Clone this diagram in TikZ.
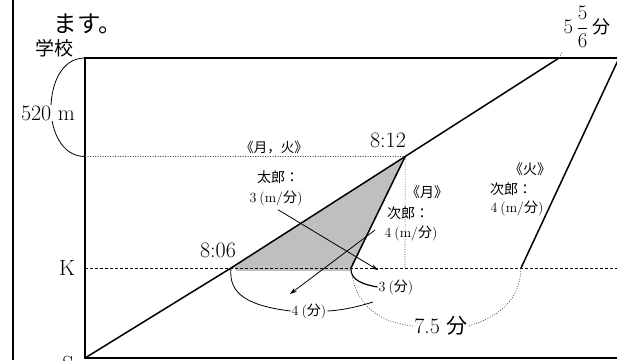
\documentclass[tikz,border=0pt]{standalone}
\usepackage{fontspec}
\usepackage{amsmath}
\newfontfamily\cjk{Noto Sans CJK JP}
\usetikzlibrary{arrows.meta,calc}
\begin{document}
\begin{tikzpicture}[x=1pt,y=-1pt,
  axis/.style={line width=1.6pt},
  graph/.style={line width=1.5pt},
  thinline/.style={line width=0.8pt},
  dotline/.style={line width=0.6pt, dash pattern=on 1pt off 1.5pt, black!75},
  dashline/.style={line width=0.6pt, dash pattern=on 3pt off 2pt},
  arr/.style={line width=0.8pt, -{Stealth[length=7pt,width=4.5pt]}},
  big/.style={font=\fontsize{22}{26}\selectfont, inner sep=1pt},
  small/.style={font=\fontsize{14}{16}\selectfont, inner sep=1pt},
  smallj/.style={font=\cjk\fontsize{14}{16}\selectfont, inner sep=1pt},
]
\useasboundingbox (0,0) rectangle (617,360);
% key points
\coordinate (S) at (85,358);
\coordinate (TL) at (85,58);
\coordinate (TR) at (617,58);
\coordinate (BR) at (617,358);
\coordinate (P1) at (231,268);
\coordinate (Top) at (559,58);
\coordinate (P2) at ($(P1)!0.531!(Top)$);
\coordinate (P3) at (351,268);
\coordinate (P4) at (521,268);
\coordinate (TueTop) at (620,56);
\coordinate (ML) at (85,156.5);
\coordinate (KL) at (85,268);
\coordinate (KR) at (617,268);
\coordinate (V) at (405,268);
\coordinate (Tick) at (562,52);
% shaded triangle
\fill[gray!50] (P1) -- (P2) -- (P3) -- cycle;
\fill[gray!50] (236,268) rectangle (351,271);
% frame
\draw[axis] (13,0) -- (13,360);
\draw[axis] (TR) -- (TL) -- (S) -- (BR);
% guide lines
\draw[dotline] (ML) -- (P2);
\draw[dotline] (P2) -- (V);
\draw[dashline] (KL) -- (KR);
\draw[dotline] (Top) -- (Tick);
% graph lines
\draw[graph] (S) -- (P1) -- (Top);
\draw[graph] (P2) -- (P3);
\draw[graph] (P4) -- (TueTop);
% labels
\node[font=\cjk\fontsize{23.5}{26}\selectfont, inner sep=1pt] (masu) at (88,24) {ます。};
\node[font=\cjk\fontsize{19}{22}\selectfont, inner sep=1pt] (gakko) at (54,48) {学校};
\draw[thinline] (TL) to[out=180,in=90] (51,108) to[out=-90,in=180] (ML);
\node[big, fill=white] (m520) at (48,113) {520 m};
\node[big] (t812) at (388,140) {8:12};
\node[big] (t806) at (218,250) {8:06};
\node[big] (K) at (67,268) {K};
\node[big] (Slab) at (68,364) {S};
\node[big, inner sep=0pt] (frac) at (587,27) {$5\,\dfrac{5}{6}$\,{\cjk\fontsize{18}{20}\selectfont 分}};
\node[smallj, font=\cjk\fontsize{13.5}{16}\selectfont] (mk) at (274,148) {《月，火》};
% Taro
\node[smallj] (ta1) at (278,177) {太郎：};
\node[small] (ta2) at (276,198) {3\hspace{3pt}(m/{\cjk 分})};
% Jiro Monday
\node[smallj] (jm0) at (427,192) {《月》};
\node[smallj] (jm1) at (408,213) {次郎：};
\node[small] (jm2) at (411,233) {4\hspace{3pt}(m/{\cjk 分})};
% Jiro Tuesday
\node[smallj] (jt0) at (530,169) {《火》};
\node[smallj] (jt1) at (511,189) {次郎：};
\node[small] (jt2) at (517,208) {4\hspace{3pt}(m/{\cjk 分})};
% arrows
\coordinate (aTe) at (378,270);
\coordinate (aJs) at (375,230);
\coordinate (aJe) at (290,294);
\draw[arr] (ta2.south) ++(2,3) -- (aTe);
\draw[arr] (aJs) -- (aJe);
% minute labels and curves
\node[small] (n3) at (396,287) {3\hspace{3pt}({\cjk 分})};
\node[small] (n4) at (309,311) {4\hspace{3pt}({\cjk 分})};
\node[big] (n75) at (441,326) {7.5 {\cjk\fontsize{21}{24}\selectfont 分}};
\draw[line width=1.2pt] (P3) to[out=-95,in=170] (n3.west);
\draw[thinline] (P1) .. controls (228,295) and (250,306) .. (n4.west);
\draw[thinline] (n4.east) .. controls (345,310) and (360,306) .. (373,302);
\draw[dotline] (P3) .. controls (355,310) and (385,323) .. (n75.west);
\draw[dotline] (n75.east) .. controls (500,316) and (520,300) .. (P4);
\end{tikzpicture}
\end{document}
